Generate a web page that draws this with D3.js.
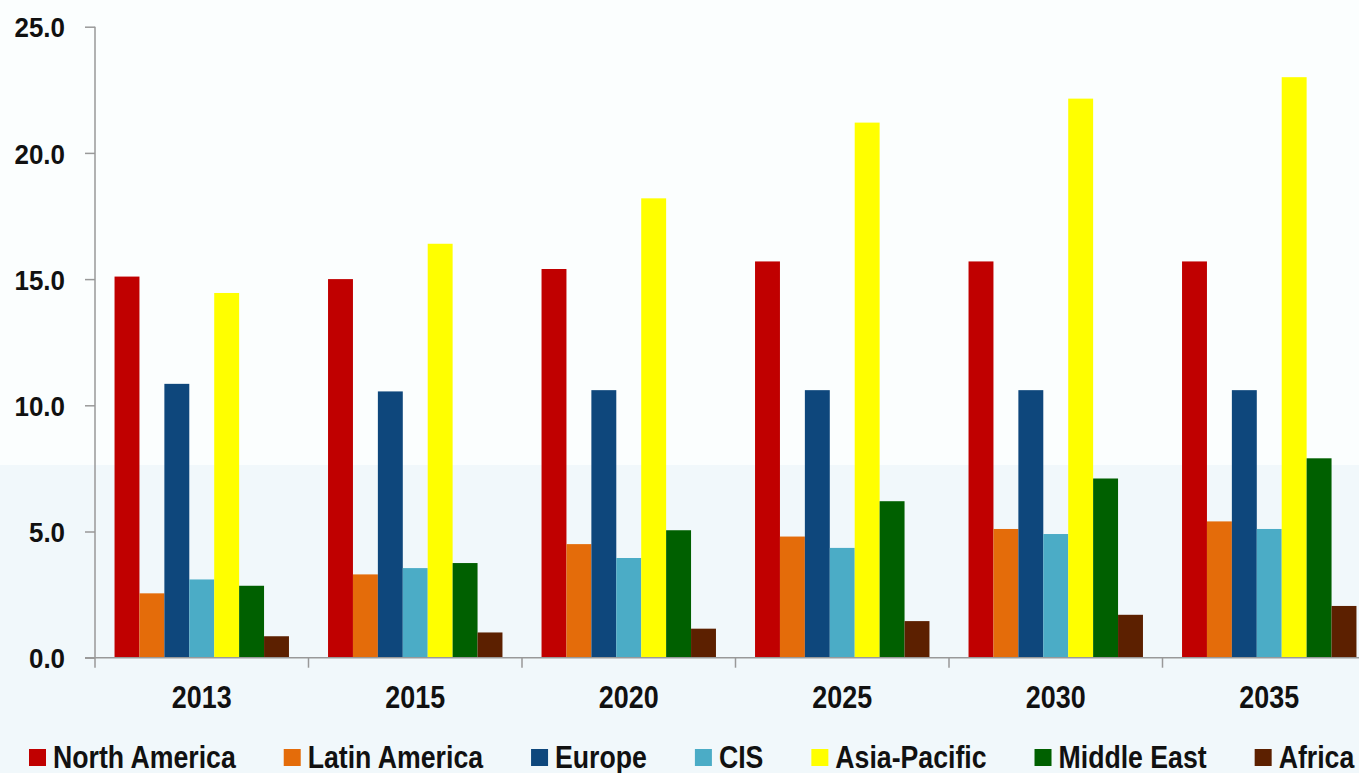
<!DOCTYPE html>
<html>
<head>
<meta charset="utf-8">
<script src="https://cdn.jsdelivr.net/npm/d3@7"></script>
<style>
  html, body { margin: 0; padding: 0; background: #fbfefe; overflow: hidden; }
  svg { display: block; }
  text { font-family: "Liberation Sans", Arial, sans-serif; font-weight: bold; fill: #111; }
</style>
</head>
<body>
<svg id="chart" width="1359" height="773"></svg>
<script>
// Regional values by year
const years = ["2013", "2015", "2020", "2025", "2030", "2035"];
const regions = ["North America", "Latin America", "Europe", "CIS", "Asia-Pacific", "Middle East", "Africa"];
const northAmerica = [15.1, 15.0, 15.4, 15.7, 15.7, 15.7];
const latinAmerica = [2.55, 3.3, 4.5, 4.8, 5.1, 5.4];
const europe       = [10.85, 10.55, 10.6, 10.6, 10.6, 10.6];
const cis          = [3.1, 3.55, 3.95, 4.35, 4.9, 5.1];
const asiaPacific  = [14.45, 16.4, 18.2, 21.2, 22.15, 23.0];
const middleEast   = [2.85, 3.75, 5.05, 6.2, 7.1, 7.9];
const africa       = [0.85, 1.0, 1.15, 1.45, 1.7, 2.05];
const yTicks = [0, 5, 10, 15, 20, 25];
const colors = ["#c00000", "#e46c0a", "#0e477c", "#4bacc6", "#ffff00", "#006000", "#5c2000"];

const seriesValues = [northAmerica, latinAmerica, europe, cis, asiaPacific, middleEast, africa];
const rows = years.map((y, i) => ({ year: y, values: regions.map((r, j) => ({ region: r, value: seriesValues[j][i] })) }));

const svg = d3.select("#chart");
const W = 1359, H = 773;

// soft two-tone backdrop
svg.append("rect").attr("x", 0).attr("y", 0).attr("width", W).attr("height", 465).attr("fill", "#fbfefe");
svg.append("rect").attr("x", 0).attr("y", 465).attr("width", W).attr("height", H - 465).attr("fill", "#f1f8fb");

const axisX = 95, step = 213.5;
const x0 = d3.scaleBand().domain(years)
  .range([axisX, axisX + step * years.length])
  .paddingInner(0.183).paddingOuter(0.0915);
const x1 = d3.scaleBand().domain(regions).range([0, x0.bandwidth()]);
const y = d3.scaleLinear().domain([0, 25]).range([657.7, 26.7]);
const color = d3.scaleOrdinal().domain(regions).range(colors);

// squeeze text horizontally to give a narrow, tall face; keeps the new width
function condense(factor) {
  return sel => sel.each(function () {
    const w = this.getComputedTextLength();
    this.__w = w * factor;
    d3.select(this).attr("textLength", this.__w).attr("lengthAdjust", "spacingAndGlyphs");
  });
}

// bars
const groups = svg.append("g").selectAll("g").data(rows).join("g")
  .attr("transform", d => `translate(${x0(d.year)},0)`);
groups.selectAll("rect").data(d => d.values).join("rect")
  .attr("x", d => x1(d.region))
  .attr("y", d => y(d.value))
  .attr("width", x1.bandwidth())
  .attr("height", d => y(0) - y(d.value))
  .attr("fill", d => color(d.region));

// y axis
const gy = svg.append("g").attr("transform", `translate(${axisX},0)`)
  .call(d3.axisLeft(y).tickValues(yTicks).tickFormat(d3.format(".1f")).tickSize(10).tickPadding(20));
gy.select(".domain").attr("stroke", "#999").attr("stroke-width", 1.5).attr("d", `M0,${y(25)}V${y(0) + 10}`);
gy.selectAll(".tick line").attr("stroke", "#999").attr("stroke-width", 1.5);
gy.selectAll(".tick text").attr("font-size", 28.5).attr("font-family", null).attr("fill", "#111")
  .attr("dy", "0.36em").call(condense(0.91));

// x axis line and category separators
const gx = svg.append("g");
gx.append("line").attr("x1", axisX - 10).attr("x2", axisX + step * years.length)
  .attr("y1", y(0)).attr("y2", y(0)).attr("stroke", "#999").attr("stroke-width", 1.5);
gx.selectAll("line.sep").data(years.slice(1)).join("line").attr("class", "sep")
  .attr("x1", d => x0(d) - x0.step() * x0.paddingInner() / 2)
  .attr("x2", d => x0(d) - x0.step() * x0.paddingInner() / 2)
  .attr("y1", y(0)).attr("y2", y(0) + 10).attr("stroke", "#999").attr("stroke-width", 1.5);
gx.selectAll("text").data(years).join("text")
  .attr("x", d => x0(d) + x0.bandwidth() / 2)
  .attr("y", 708)
  .attr("text-anchor", "middle")
  .attr("font-size", 32)
  .text(d => d).call(condense(0.84));

// legend
const legend = svg.append("g").attr("transform", "translate(29,768)");
let lx = 0;
regions.forEach((r, i) => {
  const g = legend.append("g").attr("transform", `translate(${lx},0)`);
  g.append("rect").attr("x", 0).attr("y", -19).attr("width", 17).attr("height", 17).attr("fill", colors[i]);
  const t = g.append("text").attr("x", 24).attr("y", 0).attr("font-size", 31).text(r).call(condense(0.86));
  lx += 24 + t.node().__w + 48;
});
</script>
</body>
</html>
